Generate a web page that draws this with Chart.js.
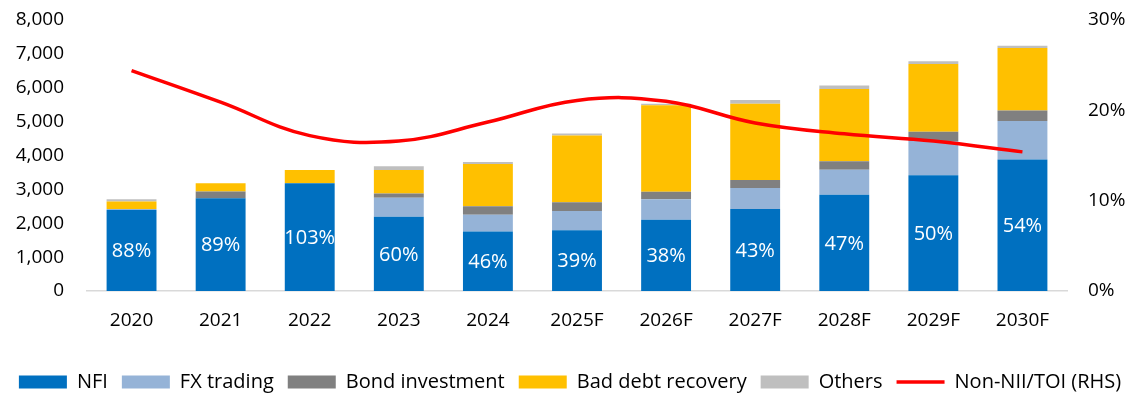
<!DOCTYPE html>
<html>
<head>
<meta charset="utf-8">
<script src="https://cdn.jsdelivr.net/npm/chart.js@4"></script>
<style>
  html, body { margin: 0; padding: 0; background: #fff; }
  #wrap { position: relative; width: 1140px; height: 394px; }
</style>
</head>
<body>
<div id="wrap"><canvas id="revenueChart"></canvas></div>
<script>
// Non-interest income breakdown (VND bn) and Non-NII/TOI ratio
const categories = ["2020", "2021", "2022", "2023", "2024", "2025F", "2026F", "2027F", "2028F", "2029F", "2030F"];
const nfi = [2390, 2740, 3180, 2190, 1760, 1790, 2100, 2420, 2840, 3420, 3880];
const fxTrading = [30, 0, 0, 560, 490, 570, 610, 620, 740, 1010, 1140];
const bondInvestment = [0, 200, 0, 130, 250, 260, 220, 240, 250, 270, 310];
const badDebtRecovery = [220, 240, 390, 690, 1250, 1970, 2550, 2250, 2130, 2000, 1840];
const others = [70, 0, 0, 110, 60, 60, 50, 110, 110, 80, 70];
const nonNiiToi = [24.4, 20.9, 17.2, 16.6, 18.7, 21.1, 21.0, 18.6, 17.4, 16.6, 15.4];
const nfiShare = [88, 89, 103, 60, 46, 39, 38, 43, 47, 50, 54];
const leftTicks = [0, 1000, 2000, 3000, 4000, 5000, 6000, 7000, 8000];
const rightTicks = [0, 10, 20, 30];

const FONT = "'Open Sans', sans-serif";
Chart.defaults.font.family = FONT;
Chart.defaults.font.size = 19;
Chart.defaults.color = "#000";

// white NFI share label in the middle of each NFI segment
const shareLabels = {
  id: "shareLabels",
  afterDatasetsDraw(chart) {
    const { ctx } = chart;
    const meta = chart.getDatasetMeta(0);
    ctx.save();
    ctx.font = "20px " + FONT;
    ctx.fillStyle = "#fff";
    ctx.textAlign = "center";
    ctx.textBaseline = "middle";
    meta.data.forEach((bar, i) => {
      ctx.fillText(nfiShare[i] + "%", bar.x, (bar.y + bar.base) / 2 + 1);
    });
    ctx.restore();
  }
};

function barSet(label, data, color) {
  return {
    type: "bar",
    label,
    data,
    backgroundColor: color,
    borderWidth: 0,
    stack: "income",
    yAxisID: "y",
    order: 1,
    categoryPercentage: 1,
    barPercentage: 0.56
  };
}

// fixed side width; tick padding should not push the plot top down
function fitSide(width) {
  return scale => {
    scale.width = width;
    scale.paddingTop = 0;
    scale.paddingBottom = 0;
  };
}

new Chart(document.getElementById("revenueChart"), {
  data: {
    labels: categories,
    datasets: [
      barSet("NFI", nfi, "#0070C0"),
      barSet("FX trading", fxTrading, "#95B3D7"),
      barSet("Bond investment", bondInvestment, "#808080"),
      barSet("Bad debt recovery", badDebtRecovery, "#FFC000"),
      barSet("Others", others, "#BFBFBF"),
      {
        type: "line",
        label: "Non-NII/TOI (RHS)",
        data: nonNiiToi,
        borderColor: "#FF0000",
        backgroundColor: "#FF0000",
        borderWidth: 3.5,
        pointRadius: 0,
        tension: 0.4,
        yAxisID: "y1",
        order: 0
      }
    ]
  },
  options: {
    responsive: true,
    maintainAspectRatio: false,
    animation: false,
    layout: { padding: { top: 20, bottom: -8, left: 0, right: 0 } },
    scales: {
      x: {
        stacked: true,
        grid: { display: false, drawTicks: false },
        border: { display: true, color: "#D9D9D9", width: 1.5 },
        ticks: { padding: 18, font: { size: 19 } },
        afterFit(scale) { scale.height = 67; }
      },
      y: {
        stacked: true,
        min: 0,
        max: 8000,
        grid: { display: false, drawTicks: false },
        border: { display: false },
        afterBuildTicks(scale) { scale.ticks = leftTicks.map(v => ({ value: v })); },
        ticks: {
          padding: 23,
          font: { size: 19 },
          callback: v => v.toLocaleString("en-US")
        },
        afterFit: fitSide(87)
      },
      y1: {
        position: "right",
        min: 0,
        max: 30,
        grid: { display: false, drawTicks: false },
        border: { display: false },
        afterBuildTicks(scale) { scale.ticks = rightTicks.map(v => ({ value: v })); },
        ticks: {
          padding: 21,
          font: { size: 19 },
          callback: v => v + "%"
        },
        afterFit: fitSide(73)
      }
    },
    plugins: {
      tooltip: { enabled: false },
      legend: {
        position: "bottom",
        labels: {
          usePointStyle: true,
          pointStyleWidth: 48,
          boxHeight: 13,
          padding: 14,
          font: { size: 20 },
          sort: (a, b) => a.datasetIndex - b.datasetIndex,
          generateLabels(chart) {
            const items = Chart.defaults.plugins.legend.labels.generateLabels(chart);
            items.forEach(item => {
              const ds = chart.data.datasets[item.datasetIndex];
              if (ds.type === "line") {
                item.pointStyle = "line";
                item.lineWidth = 3.5;
              } else {
                item.pointStyle = "rect";
                item.lineWidth = 0;
              }
            });
            return items;
          }
        }
      }
    }
  },
  plugins: [shareLabels]
});
</script>
</body>
</html>
